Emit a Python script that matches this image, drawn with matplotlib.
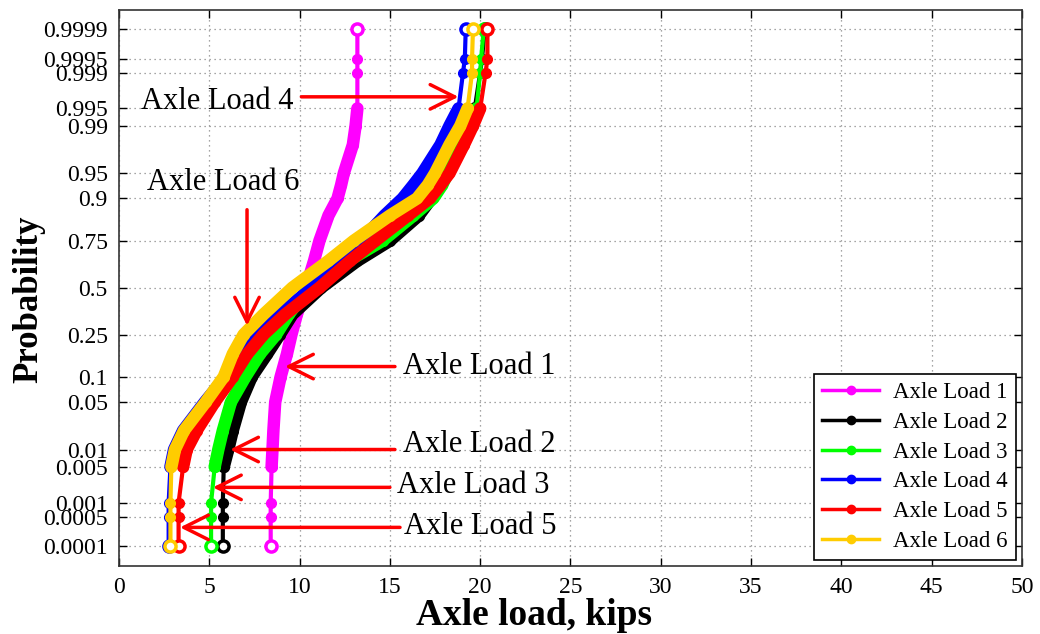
import numpy as np
import matplotlib
matplotlib.use("Agg")
import matplotlib.pyplot as plt
from matplotlib.lines import Line2D
from statistics import NormalDist

plt.rcParams['font.family'] = ['Liberation Serif', 'DejaVu Serif']

# cumulative probability levels
probs = [0.0001, 0.0005, 0.001, 0.005, 0.01, 0.02, 0.05, 0.1, 0.17, 0.25, 0.35,
         0.5, 0.65, 0.75, 0.85, 0.9, 0.93, 0.95, 0.98, 0.99, 0.995, 0.999, 0.9995, 0.9999]

# axle load (kips) at each probability level
load_1 = [8.4, 8.4, 8.4, 8.45, 8.5, 8.55, 8.65, 8.95, 9.3, 9.55, 9.85,
          10.35, 10.8, 11.1, 11.6, 12.1, 12.3, 12.45, 12.95, 13.1, 13.2, 13.2, 13.2, 13.2]
load_2 = [5.75, 5.75, 5.75, 5.8, 6.05, 6.3, 6.75, 7.35, 8.2, 8.9, 9.6,
          11.2, 13.2, 15.0, 16.6, 17.3, 17.8, 18.1, 18.8, 19.3, 19.7, 20.0, 20.1, 20.25]
load_3 = [5.1, 5.1, 5.1, 5.3, 5.5, 5.75, 6.2, 7.0, 7.8, 8.7, 9.4,
          10.5, 12.7, 14.6, 16.3, 17.4, 17.9, 18.2, 18.9, 19.4, 19.8, 20.0, 20.05, 20.2]
load_4 = [2.75, 2.75, 2.75, 2.85, 3.05, 3.55, 4.75, 5.9, 6.6, 7.6, 8.9,
          10.7, 12.2, 13.4, 14.7, 15.7, 16.3, 16.8, 17.8, 18.3, 18.8, 19.05, 19.15, 19.2]
load_5 = [3.3, 3.3, 3.3, 3.55, 3.75, 4.3, 5.3, 6.3, 7.1, 8.0, 9.2,
          11.1, 12.8, 14.2, 16.0, 17.2, 17.8, 18.3, 19.1, 19.6, 20.0, 20.3, 20.4, 20.4]
load_6 = [2.85, 2.85, 2.85, 2.9, 3.1, 3.6, 4.8, 5.8, 6.3, 6.9, 8.0,
          9.6, 11.6, 13.0, 15.0, 16.5, 17.1, 17.5, 18.3, 18.9, 19.3, 19.55, 19.55, 19.6]

names = ['Axle Load 1', 'Axle Load 2', 'Axle Load 3', 'Axle Load 4', 'Axle Load 5', 'Axle Load 6']
loads = [load_1, load_2, load_3, load_4, load_5, load_6]
colors = ['#ff00ff', '#000000', '#00ff00', '#0000ff', '#ff0000', '#ffcc00']

y_ticks = [0.0001, 0.0005, 0.001, 0.005, 0.01, 0.05, 0.1, 0.25, 0.5,
           0.75, 0.9, 0.95, 0.99, 0.995, 0.999, 0.9995, 0.9999]

# callouts: label, text anchor (load, prob), arrow tail, arrow head
callouts = [
    ('Axle Load 4', (1.2, 0.9962), (10.1, 0.99695), (18.8, 0.99695)),
    ('Axle Load 6', (1.55, 0.9345), (7.09, 0.8686), (7.09, 0.2925)),
    ('Axle Load 1', (15.7, 0.1284), (15.28, 0.1284), (9.19, 0.1284)),
    ('Axle Load 2', (15.7, 0.0121), (15.28, 0.01), (6.15, 0.01)),
    ('Axle Load 3', (15.4, 0.00226), (15.0, 0.00205), (5.2, 0.00205)),
    ('Axle Load 5', (15.8, 0.0003), (15.56, 0.000285), (3.38, 0.000285)),
]

nd = NormalDist()


def probit(p):
    return np.array([nd.inv_cdf(v) for v in np.atleast_1d(p)])


fig = plt.figure(figsize=(10.4, 6.34), dpi=100)
ax = fig.add_axes([0.1144, 0.1073, 0.8683, 0.8769])

p_arr = np.array(probs)
z = probit(p_arr)
dense = (p_arr > 0.003) & (p_arr < 0.997)

for x, c in zip(loads, colors):
    x = np.array(x)
    ax.plot(x, z, color=c, lw=3, marker='o', ms=7, zorder=3)
    ax.plot(x[dense], z[dense], color=c, lw=9, solid_capstyle='round',
            solid_joinstyle='round', zorder=3)
    ax.plot(x[[0, -1]], z[[0, -1]], 'o', mfc='white', mec=c, ms=8, mew=2.5, zorder=3)

for label, txt, tail, head in callouts:
    ax.text(txt[0], probit(txt[1])[0], label, fontsize=22, ha='left', va='center', zorder=5)
    ax.annotate('', xy=(head[0], probit(head[1])[0]), xytext=(tail[0], probit(tail[1])[0]),
                arrowprops=dict(arrowstyle='->,head_length=0.8,head_width=0.4',
                                color='red', lw=2.5, mutation_scale=22,
                                shrinkA=0, shrinkB=0), zorder=5)

ax.set_xlim(0, 50)
ax.set_ylim(-4.0, 3.99)
ax.set_xticks(np.arange(0, 51, 5))
ax.set_yticks(probit(y_ticks))
ax.set_yticklabels([f'{p:g}' for p in y_ticks])
ax.tick_params(direction='in', top=True, right=True, length=6, width=1,
               labelsize=17, pad=8)
ax.grid(True, color='#888888', linestyle=(0, (1, 3)), lw=0.9)
for s in ax.spines.values():
    s.set_color('#333333')
    s.set_linewidth(1.2)

ax.set_xlabel('Axle load, kips', fontsize=27, fontweight='bold')
ax.xaxis.set_label_coords(0.46, -0.057, transform=ax.transAxes)
ax.xaxis.label.set_va('top')
ax.set_ylabel('Probability', fontsize=25, fontweight='bold')
ax.yaxis.set_label_coords(-0.082, 0.48, transform=ax.transAxes)

handles = [Line2D([0], [0], color=c, lw=2.5, marker='o', ms=6) for c in colors]
leg = ax.legend(handles, names, loc='lower right', bbox_to_anchor=(0.993, 0.011),
                borderaxespad=0, fontsize=16.5, fancybox=False, framealpha=1,
                edgecolor='black', handlelength=2.5, labelspacing=0.38,
                borderpad=0.35, handletextpad=0.6)
leg.get_frame().set_linewidth(1.2)

fig.savefig('out.png', dpi=100)
